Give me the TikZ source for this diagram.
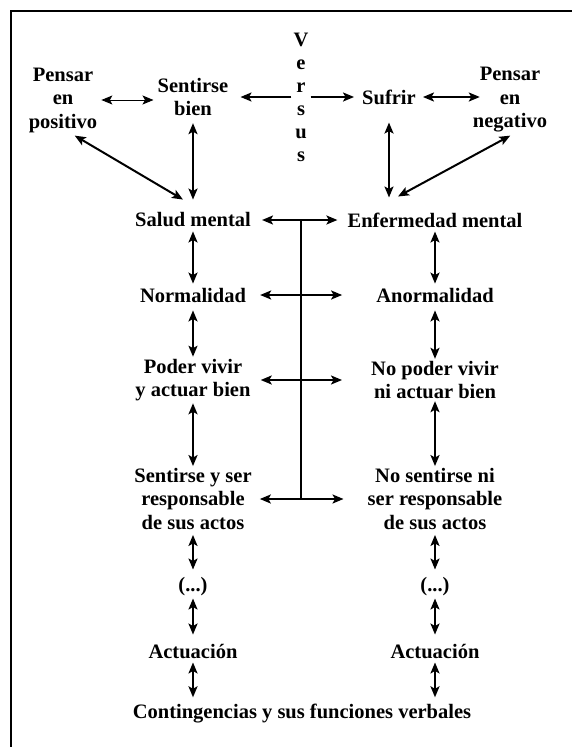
\documentclass[tikz,border=0pt]{standalone}
\usepackage{fontspec}
\setmainfont{Liberation Serif}
\usetikzlibrary{arrows.meta}

\begin{document}
\begin{tikzpicture}[x=1pt, y=-1pt, >={Stealth[length=11pt, width=9pt, inset=2.5pt]},
    concepto/.style={font=\fontsize{20.5}{23.5}\selectfont\bfseries, align=center, inner sep=2pt},
    flecha/.style={<->, line width=2pt, shorten <=2pt, shorten >=2pt},
    ida/.style={->, line width=2pt},
    linea/.style={line width=2pt},
    marco/.style={line width=2.5pt}]
    \useasboundingbox (0,0) rectangle (572,747);
    % Marco
    \draw[marco] (11,747) -- (11,11) -- (572,11);

    % Fila superior
    \node[concepto] (pos) at (63,100) {Pensar\\en\\positivo};
    \node[concepto] (sen) at (193,97) {Sentirse\\bien};
    \node[concepto, font=\fontsize{20.5}{23}\selectfont\bfseries] (ver) at (301,97) {V\\e\\r\\s\\u\\s};
    \node[concepto] (suf) at (389,97) {Sufrir};
    \node[concepto] (neg) at (510,100) {Pensar\\en\\negativo};

    % Columnas
    \node[concepto] (sal) at (193,220) {Salud mental};
    \node[concepto] (enf) at (435,220) {Enfermedad mental};
    \node[concepto] (nor) at (193,295) {Normalidad};
    \node[concepto] (anor) at (435,295) {Anormalidad};
    \node[concepto] (pod) at (193,380) {Poder vivir\\y actuar bien};
    \node[concepto] (npod) at (435,380) {No poder vivir\\ni actuar bien};
    \node[concepto] (res) at (193,499) {Sentirse y ser\\responsable\\de sus actos};
    \node[concepto] (nres) at (435,499) {No sentirse ni\\ser responsable\\de sus actos};
    \node[concepto] (pun1) at (193,587) {(...)};
    \node[concepto] (pun2) at (435,587) {(...)};
    \node[concepto] (act1) at (193,651) {Actuación};
    \node[concepto] (act2) at (435,651) {Actuación};
    \node[concepto] (cont) at (302,714) {Contingencias y sus funciones verbales};

    % Flechas de arriba
    \draw[flecha, line width=1pt] (pos.east) -- (pos.east -| sen.west);
    \draw[ida, shorten >=10pt] (ver) -- (sen);
    \draw[ida, shorten >=6pt] (ver) -- (suf);
    \draw[flecha, shorten <=5pt, shorten >=-9pt] (suf) -- (suf -| neg.west);
    \draw[flecha, shorten <=5pt, shorten >=11pt] (sen) -- (sen |- sal.north);
    \draw[flecha, shorten >=0pt] ([xshift=10pt]pos.south) -- ([xshift=-10pt, yshift=11pt]sal.north);
    \draw[flecha, shorten <=16pt, shorten >=13pt] (suf) -- (suf |- enf.north);
    \draw[flecha, shorten >=0pt] ([xshift=2pt]neg.south) -- ([xshift=-37pt, yshift=14pt]enf.north);

    % Eje central
    \draw[linea] (sal -| ver) -- (res -| ver);
    \draw[flecha, shorten <=9pt, shorten >=8pt] (sal) -- (enf);
    \draw[flecha, shorten <=12pt, shorten >=32pt] (nor) -- (anor);
    \draw[flecha, shorten <=8pt, shorten >=27pt] (pod) -- (npod);
    \draw[flecha, shorten <=6pt, shorten >=22pt] (res) -- (nres);

    % Columna izquierda
    \draw[flecha] (sal) -- (nor);
    \draw[flecha, shorten <=6pt, shorten >=0pt] (nor) -- (pod);
    \draw[flecha, shorten <=0pt, shorten >=0pt] (pod) -- (res);
    \draw[flecha, shorten <=3pt, shorten >=6pt] (res) -- (pun1);
    \draw[flecha, shorten <=0pt, shorten >=7pt] (pun1) -- (act1);
    \draw[flecha, shorten >=5pt] (act1) -- (act1 |- cont.north);

    % Columna derecha
    \draw[flecha] (enf) -- (anor);
    \draw[flecha, shorten <=6pt, shorten >=0pt] (anor) -- (npod);
    \draw[flecha, shorten <=0pt, shorten >=0pt] (npod) -- (nres);
    \draw[flecha, shorten <=3pt, shorten >=6pt] (nres) -- (pun2);
    \draw[flecha, shorten <=0pt, shorten >=7pt] (pun2) -- (act2);
    \draw[flecha, shorten >=5pt] (act2) -- (act2 |- cont.north);
\end{tikzpicture}
\end{document}
